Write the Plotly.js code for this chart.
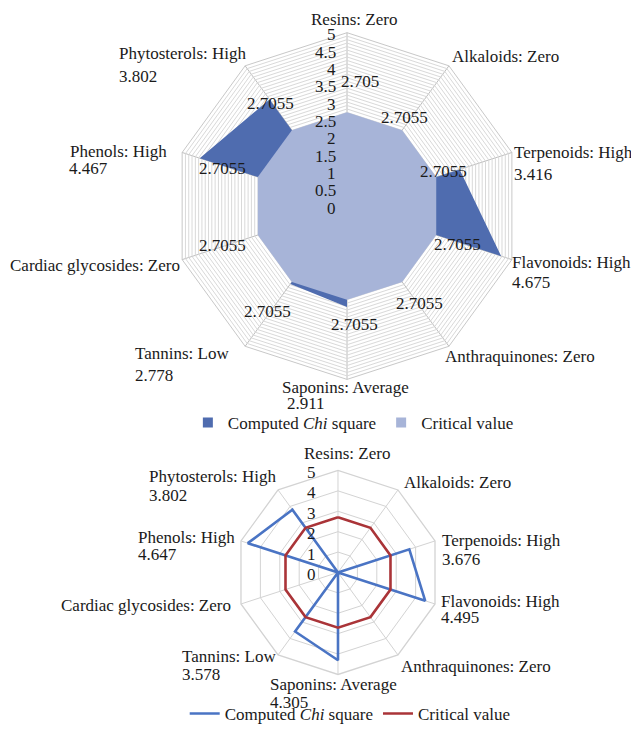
<!DOCTYPE html>
<html>
<head>
<meta charset="utf-8">
<script src="https://cdn.plot.ly/plotly-3.0.1.min.js"></script>
<style>html,body{margin:0;padding:0;background:#fff;}#chart{width:631px;height:732px;}</style>
</head>
<body>
<div id="chart"></div>
<script>
// Categories (clockwise from top)
const categories = ["Resins", "Alkaloids", "Terpenoids", "Flavonoids", "Anthraquinones",
  "Saponins", "Tannins", "Cardiac glycosides", "Phenols", "Phytosterols"];
const levels = ["Zero", "Zero", "High", "High", "Zero", "Average", "Low", "Zero", "High", "High"];

// Top chart (filled radar)
const topComputed = [0, 0, 3.416, 4.675, 0, 2.911, 2.778, 0, 4.467, 3.802];
const topCritical = [2.7055, 2.7055, 2.7055, 2.7055, 2.7055, 2.7055, 2.7055, 2.7055, 2.7055, 2.7055];
const topCriticalLabels = ["2.705", "2.7055", "2.7055", "2.7055", "2.7055", "2.7055", "2.7055", "2.7055", "2.7055", "2.7055"];
const topComputedLabels = ["", "", "3.416", "4.675", "", "2.911", "2.778", "", "4.467", "3.802"];

// Bottom chart (line radar)
const botComputed = [0, 0, 3.676, 4.495, 0, 4.305, 3.578, 0, 4.647, 3.802];
const botCritical = [2.7055, 2.7055, 2.7055, 2.7055, 2.7055, 2.7055, 2.7055, 2.7055, 2.7055, 2.7055];
const botComputedLabels = ["", "", "3.676", "4.495", "", "4.305", "3.578", "", "4.647", "3.802"];

// Radial tick labels
const topTickVals = [0, 0.5, 1, 1.5, 2, 2.5, 3, 3.5, 4, 4.5, 5];
const topTickLabels = ["0", "0.5", "1", "1.5", "2", "2.5", "3", "3.5", "4", "4.5", "5"];
const botTickVals = [0, 1, 2, 3, 4, 5];
const botTickLabels = ["0", "1", "2", "3", "4", "5"];

const seriesNames = ["Computed <i>Chi</i> square", "Critical value"];

// ---------- styling / placement (not data) ----------
const W = 631, H = 732;
const FONT = "Liberation Serif";
const TXT = "#1a1a1a";
const FS = 17;
const topDomain = { x: [0.2726, 0.8273], y: [0.4767, 0.9549] };
const botDomain = { x: [0.3724, 0.6989], y: [0.0697, 0.3511] };
const RMAX = 5;

// category label placement relative to the outer vertex (px):
// [xanchor, dx, dy of first line centre, dx of value line, dy of value line centre]
const topCatPlace = [["center", 7, -13], ["left", 0, -9], ["left", -1, 0, -1, 22], ["left", -3, 3, -3, 23], ["left", -7, 10],
  ["left", -67, 8, -62, 24], ["left", -111, 7, -111, 30], ["right", 1, 6], ["left", -113, -1, -114, 16], ["left", -127, -12, -127, 11]];
const botCatPlace = [["center", 9, -17], ["left", 3, -8], ["left", 4, 0, 4, 19], ["left", 3, -3, 3, 14], ["left", 0, 12],
  ["left", -70, 10, -70, 28], ["left", -97, 2, -97, 20], ["right", -7, 2], ["left", -104, -3, -104, 14], ["left", -130, -14, -130, 6]];
// critical value data-label offsets (label centre relative to the point), px
const topCritOffset = [[13, -31], [2, -13], [6, -6], [20, 10], [17, 22], [7, 25], [-24, 30], [-34, 11], [-34, -9], [-21, -27]];
// radial tick label placement: right edge offset from axis, vertical shift
const topTickPlace = { dx: -9, dy: 2 };
const botTickPlace = { dx: -20, dy: 2 };

function geom(dom) {
  const cx = (dom.x[0] + dom.x[1]) / 2 * W;
  const cy = (1 - (dom.y[0] + dom.y[1]) / 2) * H;
  const R = Math.min((dom.x[1] - dom.x[0]) * W, (dom.y[1] - dom.y[0]) * H) / 2;
  return { cx, cy, R };
}
function pointPx(g, i, r) {
  const a = i * 2 * Math.PI / categories.length; // clockwise from top
  return [g.cx + g.R * (r / RMAX) * Math.sin(a), g.cy - g.R * (r / RMAX) * Math.cos(a)];
}
function txt(x, y, text, xanchor) {
  return { xref: "paper", yref: "paper", x: x / W, y: 1 - y / H, xanchor, yanchor: "middle",
    showarrow: false, text, font: { family: FONT, size: FS, color: TXT } };
}
function catAnnotations(dom, valueLabels, place) {
  const g = geom(dom);
  const out = [];
  categories.forEach((c, i) => {
    const [px, py] = pointPx(g, i, RMAX);
    const p = place[i];
    out.push(txt(px + p[1], py + p[2], c + ": " + levels[i], p[0]));
    if (valueLabels[i]) out.push(txt(px + p[3], py + p[4], valueLabels[i], "left"));
  });
  return out;
}
function valueAnnotations(dom, values, labels, offs) {
  const g = geom(dom);
  return values.map((v, i) => {
    const [px, py] = pointPx(g, i, v);
    return txt(px + offs[i][0], py + offs[i][1], labels[i], "center");
  });
}
function tickAnnotations(dom, vals, labels, pl) {
  const g = geom(dom);
  return vals.map((v, i) => txt(g.cx + pl.dx, g.cy - g.R * v / RMAX + pl.dy, labels[i], "right"));
}
const close = a => a.concat([a[0]]);

// dense grid for top chart: every 0.1
const topGridVals = [];
for (let k = 0; k <= 50; k++) topGridVals.push(k / 10);

const DARK = "#4F6CAF", LIGHT = "#A7B4D8", BLUE = "#4A74C4", RED = "#AA3438";

const data = [
  { type: "scatterpolar", subplot: "polar", r: close(topComputed), theta: close(categories),
    fill: "toself", fillcolor: DARK, mode: "lines", line: { width: 0, color: DARK },
    name: seriesNames[0], showlegend: false },
  { type: "scatterpolar", subplot: "polar", r: close(topCritical), theta: close(categories),
    fill: "toself", fillcolor: LIGHT, mode: "lines", line: { width: 0, color: LIGHT },
    name: seriesNames[1], showlegend: false },
  { type: "scatterpolar", subplot: "polar", legend: "legend", r: [null], theta: [categories[0]],
    mode: "markers", marker: { symbol: "square", size: 10, color: DARK }, name: seriesNames[0] },
  { type: "scatterpolar", subplot: "polar", legend: "legend", r: [null], theta: [categories[0]],
    mode: "markers", marker: { symbol: "square", size: 10, color: LIGHT }, name: seriesNames[1] },
  { type: "scatterpolar", subplot: "polar2", legend: "legend2",
    r: close(botComputed), theta: close(categories),
    mode: "lines", line: { width: 2.6, color: BLUE }, name: seriesNames[0] },
  { type: "scatterpolar", subplot: "polar2", legend: "legend2",
    r: close(botCritical), theta: close(categories),
    mode: "lines", line: { width: 2.6, color: RED }, name: seriesNames[1] }
];

const annotations = []
  .concat(catAnnotations(topDomain, topComputedLabels, topCatPlace))
  .concat(catAnnotations(botDomain, botComputedLabels, botCatPlace))
  .concat(valueAnnotations(topDomain, topCritical, topCriticalLabels, topCritOffset))
  .concat(tickAnnotations(topDomain, topTickVals, topTickLabels, topTickPlace))
  .concat(tickAnnotations(botDomain, botTickVals, botTickLabels, botTickPlace));

const layout = {
  width: W, height: H,
  margin: { l: 0, r: 0, t: 0, b: 0 },
  paper_bgcolor: "#fff",
  font: { family: FONT, size: FS, color: TXT },
  annotations,
  polar: {
    domain: topDomain, gridshape: "linear", bgcolor: "#fff",
    radialaxis: {
      range: [0, RMAX], angle: 90, tickmode: "array", tickvals: topGridVals,
      showticklabels: false, showline: false, ticks: "", gridcolor: "#D9D9D9", gridwidth: 0.8
    },
    angularaxis: {
      type: "category", categoryarray: categories, rotation: 90, direction: "clockwise",
      showticklabels: false, gridcolor: "#BDBDBD", linecolor: "#C8C8C8", showline: true, ticks: ""
    }
  },
  polar2: {
    domain: botDomain, gridshape: "linear", bgcolor: "#fff",
    radialaxis: {
      range: [0, RMAX], angle: 90, tickmode: "array", tickvals: botTickVals,
      showticklabels: false, showline: false, ticks: "",
      gridcolor: "#D3D3D3", gridwidth: 1.3
    },
    angularaxis: {
      type: "category", categoryarray: categories, rotation: 90, direction: "clockwise",
      showticklabels: false, gridcolor: "#D3D3D3", gridwidth: 1.3, linecolor: "#D3D3D3", linewidth: 1.3,
      showline: true, ticks: ""
    }
  },
  legend: {
    orientation: "h", x: 0.56, xanchor: "center", y: 1 - 427 / H, yanchor: "middle",
    font: { family: FONT, size: FS, color: TXT }, itemwidth: 30, bgcolor: "rgba(0,0,0,0)"
  },
  legend2: {
    orientation: "h", x: 0.555, xanchor: "center", y: 1 - 721 / H, yanchor: "middle",
    font: { family: FONT, size: FS, color: TXT }, itemwidth: 30, bgcolor: "rgba(0,0,0,0)"
  },
  showlegend: true
};

Plotly.newPlot("chart", data, layout, { displayModeBar: false }).then(function () {
  try {
    document.querySelectorAll("#chart text").forEach(function (t) {
      t.setAttribute("font-family", "Liberation Serif");
      t.style.setProperty("font-family", "'Liberation Serif', serif", "important");
    });
  } catch (e) { /* ignore */ }
});
</script>
</body>
</html>
